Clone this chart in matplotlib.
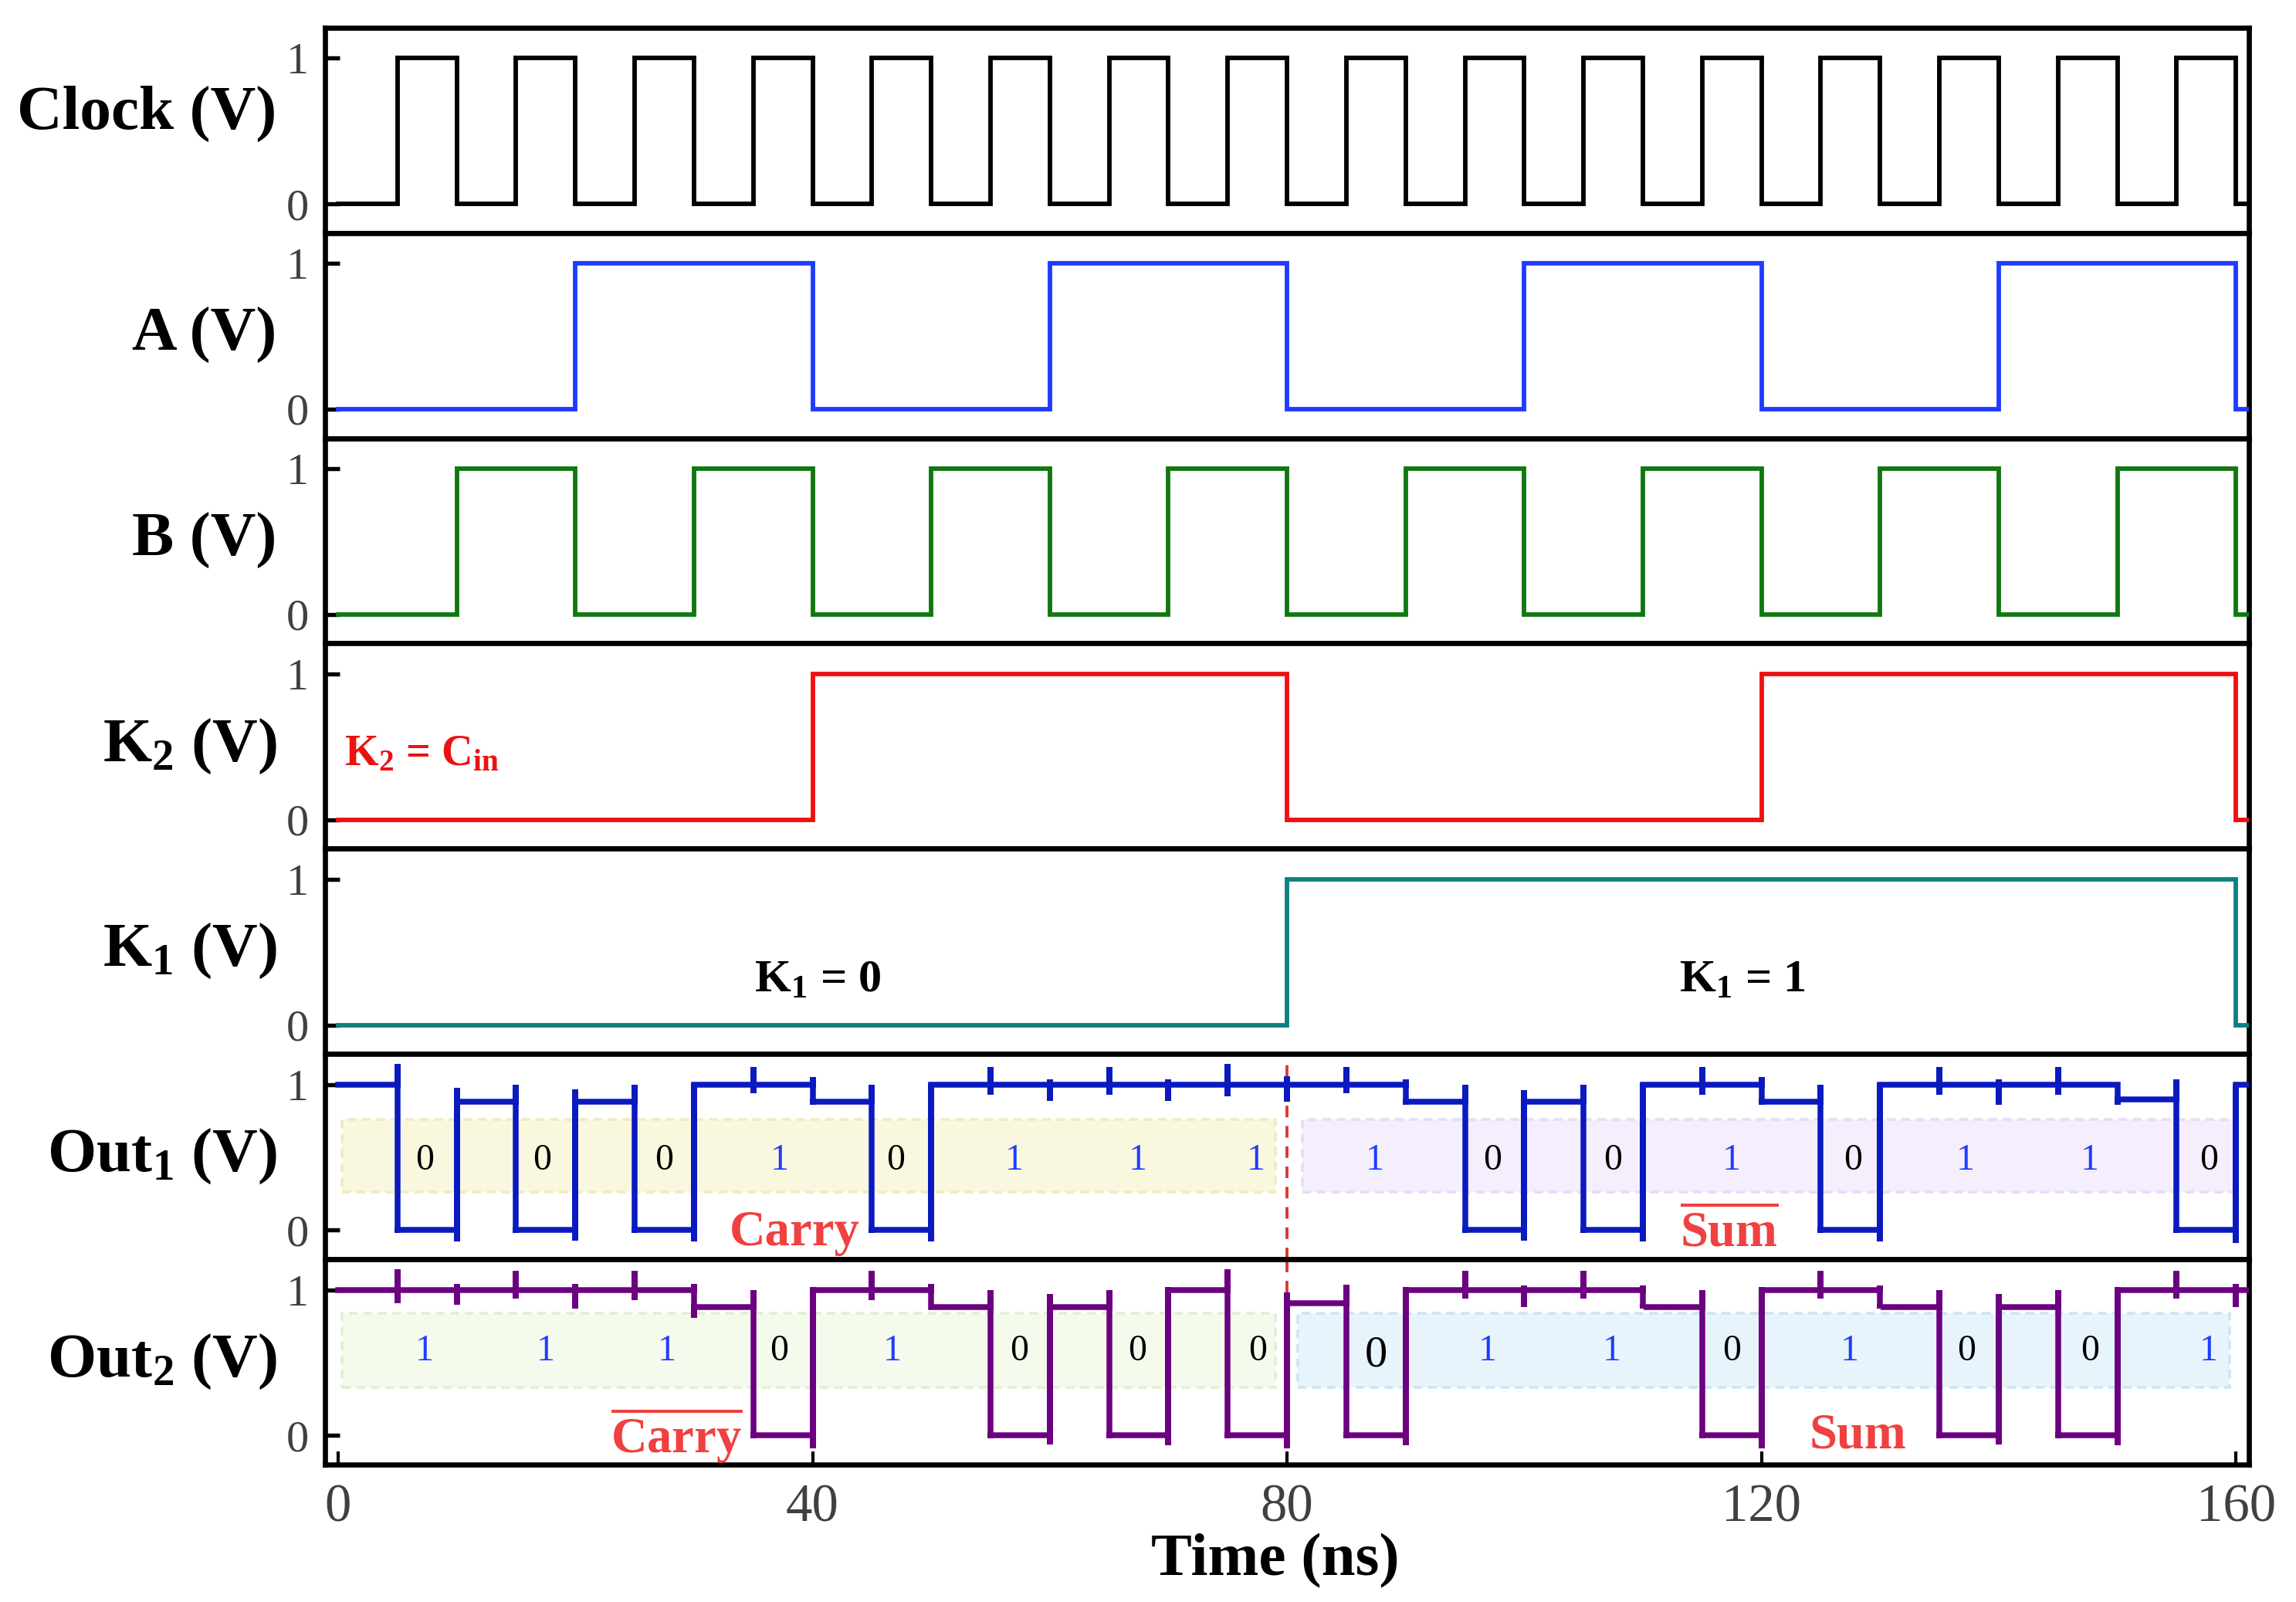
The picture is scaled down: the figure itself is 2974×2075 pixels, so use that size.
import matplotlib
matplotlib.use("Agg")
import matplotlib.pyplot as plt
from matplotlib.patches import Rectangle
import numpy as np

plt.rcParams['font.family'] = 'serif'
plt.rcParams['font.serif'] = ['Liberation Serif', 'DejaVu Serif']
plt.rcParams['mathtext.fontset'] = 'custom'
plt.rcParams['mathtext.rm'] = 'Liberation Serif'
plt.rcParams['mathtext.bf'] = 'Liberation Serif:bold'
plt.rcParams['mathtext.it'] = 'Liberation Serif:italic'

# ---- data (one level per 5 ns slot, 0..160 ns) ----
slot = 5
clock = [0, 1] * 16
a_in = [0, 0, 0, 0, 1, 1, 1, 1] * 4
b_in = [0, 0, 1, 1] * 8
k2 = [0] * 8 + [1] * 8 + [0] * 8 + [1] * 8
k1 = [0] * 16 + [1] * 16

out1 = [1, 0, 0.88, 0, 0.88, 0, 1, 1, 0.88, 0, 1, 1, 1, 1, 1, 1,
        1, 1, 0.88, 0, 0.88, 0, 1, 1, 0.88, 0, 1, 1, 1, 1, 0.9, 0]
out1_end = 1
# extremes of the switching glitch at every clock edge (5, 10, ... 160 ns)
out1_hi = [1.14, 0.98, 1.0, 0.965, 1.0, 1.01, 1.12, 1.05, 1.0, 1.01, 1.12, 1.035, 1.12, 1.035, 1.14, 1.06,
           1.12, 1.035, 1.0, 0.96, 1.0, 1.01, 1.12, 1.05, 1.0, 1.01, 1.12, 1.035, 1.12, 1.0, 1.035, 1.0]
out1_lo = [-0.02, -0.08, -0.02, -0.07, -0.02, -0.08, 0.94, 0.86, -0.02, -0.08, 0.93, 0.886, 0.93, 0.886, 0.92, 0.88,
           0.94, 0.86, -0.02, -0.07, -0.02, -0.08, 0.93, 0.86, -0.02, -0.08, 0.93, 0.86, 0.93, 0.86, -0.02, -0.09]

out2 = [1, 1, 1, 1, 1, 1, 0.88, 0, 1, 1, 0.88, 0, 0.88, 0, 1, 0,
        0.91, 0, 1, 1, 1, 1, 0.88, 0, 1, 1, 0.88, 0, 0.88, 0, 1, 1]
out2_end = 1
out2_hi = [1.14, 1.04, 1.13, 1.04, 1.13, 1.04, 1.0, 1.02, 1.13, 1.04, 1.0, 0.97, 1.0, 1.02, 1.14, 0.98,
           1.035, 1.02, 1.13, 1.03, 1.13, 1.03, 1.0, 1.02, 1.13, 1.03, 1.0, 0.97, 1.0, 1.02, 1.13, 1.04]
out2_lo = [0.91, 0.90, 0.94, 0.87, 0.93, 0.81, -0.02, -0.09, 0.93, 0.88, -0.02, -0.06, -0.02, -0.07, -0.02, -0.09,
           -0.02, -0.07, 0.94, 0.88, 0.94, 0.87, -0.02, -0.09, 0.94, 0.87, -0.02, -0.06, -0.02, -0.07, 0.94, 0.88]

out1_bits = [0, 0, 0, 1, 0, 1, 1, 1, 1, 0, 0, 1, 0, 1, 1, 0]
out1_pos = [7.3, 17.2, 27.5, 37.2, 47.0, 57.0, 67.4, 77.4, 87.4, 97.3, 107.5, 117.5, 127.7, 137.2, 147.7, 157.7]
out2_bits = [1, 1, 1, 0, 1, 0, 0, 0, 0, 1, 1, 0, 1, 0, 0, 1]
out2_pos = [7.3, 17.5, 27.7, 37.2, 46.7, 57.4, 67.4, 77.5, 87.5, 96.9, 107.4, 117.5, 127.4, 137.3, 147.7, 157.7]

labels = ['Clock (V)', 'A (V)', 'B (V)', r'K$_{\mathbf{2}}$ (V)', r'K$_{\mathbf{1}}$ (V)',
          r'Out$_{\mathbf{1}}$ (V)', r'Out$_{\mathbf{2}}$ (V)']
colors = ['black', '#1E3CFF', '#117711', '#EE1111', '#0E8080', '#0A1ABF', '#6B0080']
xticks = [0, 40, 80, 120, 160]
t_end = 161.1


def step_xy(levels):
    t = [0]
    y = [levels[0]]
    for i in range(1, len(levels)):
        t += [i * slot, i * slot]
        y += [levels[i - 1], levels[i]]
    t += [len(levels) * slot, len(levels) * slot, t_end]
    y += [levels[-1], 0, 0]
    return t, y


def glitch_xy(levels, hi, lo, end):
    t = [0]
    y = [levels[0]]
    n = len(levels)
    for i in range(1, n + 1):
        te = i * slot
        nxt = levels[i] if i < n else end
        t += [te, te, te, te]
        y += [levels[i - 1], hi[i - 1], lo[i - 1], nxt]
    t.append(t_end)
    y.append(end)
    return t, y


fig, axes = plt.subplots(7, 1, sharex=True, figsize=(2974 / 300, 2075 / 300), dpi=300)
fig.subplots_adjust(left=0.1416, right=0.9795, top=0.9827, bottom=0.0858, hspace=0)

waves = [step_xy(clock), step_xy(a_in), step_xy(b_in), step_xy(k2), step_xy(k1),
         glitch_xy(out1, out1_hi, out1_lo, out1_end), glitch_xy(out2, out2_hi, out2_lo, out2_end)]

for i, ax in enumerate(axes):
    t, y = waves[i]
    lw = 1.8 if i >= 5 else 1.4
    ax.plot(t, y, color=colors[i], lw=lw, zorder=3, solid_joinstyle='miter')
    ax.set_ylim(-0.2, 1.21)
    ax.set_xlim(-1.1, 161.1)
    ax.set_yticks([0, 1])
    for s in ax.spines.values():
        s.set_linewidth(1.6)
    ax.tick_params(axis='y', direction='in', length=4.5, width=1.3, labelsize=14,
                   labelcolor='#404040', pad=5)
    if i < 6:
        ax.tick_params(axis='x', length=0)
    ax.text(-0.025, 0.58 if i == 0 else 0.5, labels[i], transform=ax.transAxes, ha='right',
            va='center', fontsize=19.5, fontweight='bold')

ax = axes[6]
ax.set_xticks(xticks)
ax.tick_params(axis='x', direction='in', length=4, width=1.0, labelsize=16.5,
               labelcolor='#404040', pad=6)
ax.set_xlabel('Time (ns)', fontsize=19, fontweight='bold')
ax.xaxis.set_label_coords(0.494, -0.335)

# annotations
axes[3].text(0.5, 0.45, r'K$_{\mathbf{2}}$ = C$_{\mathbf{in}}$', color='#EE1111', fontsize=13.5,
             fontweight='bold', ha='left', va='center')
axes[4].text(40.4, 0.3, r'K$_{\mathbf{1}}$ = 0', fontsize=14.5, fontweight='bold', ha='center', va='center')
axes[4].text(118.4, 0.3, r'K$_{\mathbf{1}}$ = 1', fontsize=14.5, fontweight='bold', ha='center', va='center')

box_specs = [(axes[5], 0.3, 79.0, 0.26, 0.76, '#FAF7DF', '#F1EBC2'),
             (axes[5], 81.3, 160.0, 0.26, 0.76, '#F4EEFD', '#E6DCF8'),
             (axes[6], 0.3, 79.0, 0.33, 0.84, '#F4FAEC', '#E2F0D2'),
             (axes[6], 80.9, 159.5, 0.33, 0.84, '#E8F4FC', '#CDE5F7')]
for bx, x0, x1, y0, y1, fc, ec in box_specs:
    bx.add_patch(Rectangle((x0, y0), x1 - x0, y1 - y0, facecolor=fc, edgecolor=ec,
                           linestyle=(0, (3, 2)), lw=0.9, zorder=1))

for bits, pos, bx, yy in [(out1_bits, out1_pos, axes[5], 0.48), (out2_bits, out2_pos, axes[6], 0.58)]:
    for j, (b, p) in enumerate(zip(bits, pos)):
        fs = 11.5
        y_text = yy
        if bx is axes[6] and j == 8:
            fs, y_text = 14, 0.55
        bx.text(p, y_text, str(b), color='#1E3CFF' if b else 'black', fontsize=fs,
                ha='center', va='center', zorder=4)

red = '#F04040'
axes[5].text(38.5, -0.02, 'Carry', color=red, fontsize=15.5, fontweight='bold', ha='center', va='center', zorder=4)
axes[5].text(117.3, -0.02, r'$\overline{\mathbf{Sum}}$', color=red, fontsize=15.5, ha='center', va='center', zorder=4)
axes[6].text(28.5, 0.0, r'$\overline{\mathbf{Carry}}$', color=red, fontsize=15.5, ha='center', va='center', zorder=4)
axes[6].text(128.1, 0.0, 'Sum', color=red, fontsize=15.5, fontweight='bold', ha='center', va='center', zorder=4)

axes[5].axvline(80, color='#E03030', lw=0.9, ls=(0, (4, 3)), zorder=2)
axes[6].axvline(80, ymin=0.84, ymax=1, color='#E03030', lw=0.9, ls=(0, (4, 3)), zorder=2)

fig.savefig('out.png', dpi=300)
